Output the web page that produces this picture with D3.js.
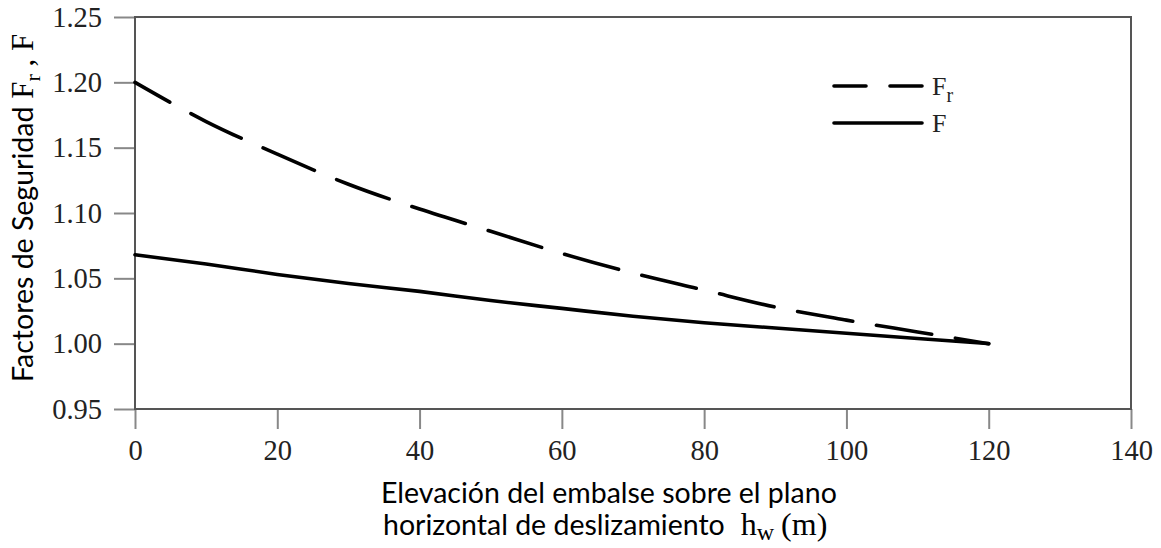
<!DOCTYPE html>
<html>
<head>
<meta charset="utf-8">
<script src="https://cdn.jsdelivr.net/npm/d3@7"></script>
<style>
  body { margin: 0; background: #fff; }
  .tick text { font-family: "Liberation Serif", "Times New Roman", serif; fill: #222; }
</style>
</head>
<body>
<div id="chart"></div>
<script>
// values
const hw = [0, 10, 20, 30, 40, 50, 60, 70, 80, 90, 100, 110, 120];
const fr = [1.200, 1.170, 1.145, 1.122, 1.103, 1.086, 1.069, 1.054, 1.041, 1.028, 1.018, 1.009, 1.000];
const f  = [1.068, 1.061, 1.053, 1.046, 1.040, 1.033, 1.027, 1.021, 1.016, 1.012, 1.008, 1.004, 1.000];
const xTicks = [0, 20, 40, 60, 80, 100, 120, 140];
const yTicks = [0.95, 1.00, 1.05, 1.10, 1.15, 1.20, 1.25];

const width = 1161, height = 548;
const margin = {left: 135, right: 30, top: 17, bottom: 139};

const svg = d3.select('#chart').append('svg')
  .attr('width', width).attr('height', height);

svg.append('rect').attr('width', width).attr('height', height).attr('fill', 'white');

const x = d3.scaleLinear().domain([0, 140]).range([margin.left, width - margin.right]);
const y = d3.scaleLinear().domain([0.95, 1.25]).range([height - margin.bottom, margin.top]);

// axes
const xAxis = svg.append('g')
  .attr('transform', `translate(0,${y(0.95)})`)
  .call(d3.axisBottom(x).tickValues(xTicks).tickSize(20).tickPadding(11).tickFormat(d3.format('d')));

const yAxis = svg.append('g')
  .attr('transform', `translate(${x(0)},0)`)
  .call(d3.axisLeft(y).tickValues(yTicks).tickSize(21).tickPadding(12).tickFormat(d3.format('.2f')));

[xAxis, yAxis].forEach(a => {
  a.select('.domain').remove();
  a.selectAll('.tick line').attr('stroke', '#888').attr('stroke-width', 2);
  a.selectAll('.tick text').style('font-size', '28.5px');
});

// frame
svg.append('rect')
  .attr('x', x(0)).attr('y', y(1.25))
  .attr('width', x(140) - x(0)).attr('height', y(0.95) - y(1.25))
  .attr('fill', 'none').attr('stroke', '#555').attr('stroke-width', 2);

// curves
const line = d3.line()
  .x((d, i) => x(hw[i]))
  .y(d => y(d))
  .curve(d3.curveMonotoneX);

svg.append('path')
  .datum(fr)
  .attr('d', line)
  .attr('fill', 'none')
  .attr('stroke', '#000')
  .attr('stroke-width', 3.6)
  .attr('stroke-linecap', 'round')
  .attr('stroke-dasharray', '56,24')
  .attr('stroke-dashoffset', 16);

svg.append('path')
  .datum(f)
  .attr('d', line)
  .attr('fill', 'none')
  .attr('stroke', '#000')
  .attr('stroke-width', 3.6)
  .attr('stroke-linecap', 'round');

// legend
const legend = svg.append('g').attr('transform', 'translate(834,0)');
legend.append('line')
  .attr('x1', 0).attr('x2', 88).attr('y1', 86).attr('y2', 86)
  .attr('stroke', '#000').attr('stroke-width', 3.6).attr('stroke-linecap', 'round')
  .attr('stroke-dasharray', '32,24');
legend.append('line')
  .attr('x1', 0).attr('x2', 88).attr('y1', 123).attr('y2', 123)
  .attr('stroke', '#000').attr('stroke-width', 3.6).attr('stroke-linecap', 'round');

const serif = '"Liberation Serif", "Times New Roman", serif';
const frLabel = legend.append('text')
  .attr('x', 98).attr('y', 95)
  .style('font-family', serif).style('font-size', '26px').attr('fill', '#222');
frLabel.append('tspan').text('F');
frLabel.append('tspan').attr('dy', 7).style('font-size', '20px').text('r');
legend.append('text')
  .attr('x', 98).attr('y', 132)
  .style('font-family', serif).style('font-size', '26px').attr('fill', '#222')
  .text('F');

// axis titles
const sans = 'Lato, "Open Sans", sans-serif';
svg.append('text')
  .attr('x', 381).attr('y', 503)
  .style('font-family', sans).style('font-size', '28.5px').attr('fill', '#000')
  .text('Elevación del embalse sobre el plano');

const xTitle2 = svg.append('text')
  .attr('x', 383).attr('y', 535)
  .style('font-family', sans).style('font-size', '28.5px').attr('fill', '#000');
xTitle2.append('tspan').text('horizontal de deslizamiento');
xTitle2.append('tspan').attr('dx', 16).style('font-family', serif).style('font-size', '32px').text('h');
xTitle2.append('tspan').style('font-family', serif).style('font-size', '24px').attr('dy', 5).text('w');
xTitle2.append('tspan').attr('dx', 7).style('font-family', serif).style('font-size', '32px').attr('dy', -5).text('(m)');

const yTitle = svg.append('text')
  .attr('transform', 'translate(33,382) rotate(-90)')
  .attr('x', 0).attr('y', 0)
  .style('font-family', sans).style('font-size', '28.5px').attr('fill', '#000');
yTitle.append('tspan').text('Factores de Seguridad');
yTitle.append('tspan').style('font-family', serif).style('font-size', '31px').text(' F');
yTitle.append('tspan').style('font-family', serif).style('font-size', '22px').attr('dy', 7).text('r');
yTitle.append('tspan').style('font-family', serif).style('font-size', '31px').attr('dy', -7).text(' ,  F');
</script>
</body>
</html>
